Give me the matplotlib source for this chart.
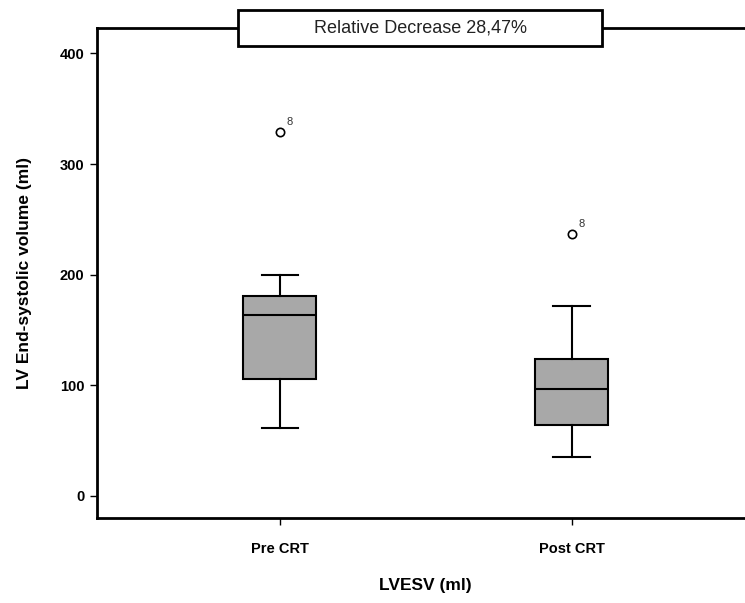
import numpy as np
import matplotlib.pyplot as plt
from matplotlib.patches import Rectangle

plt.rcParams['font.family'] = ['Liberation Sans', 'DejaVu Sans']

# data
groups = ['Pre CRT', 'Post CRT']
whislo = [61.4, 35.2]
q1 = [105.6, 64.1]
med = [163.4, 96.6]
q3 = [180.6, 123.7]
whishi = [199.5, 171.6]
outliers = [[329.0], [236.6]]
outlier_ids = ['8', '8']
title_text = 'Relative Decrease 28,47%'

fig = plt.figure(figsize=(7.45, 6.03), dpi=100)
ax = fig.add_axes([0.130, 0.141, 0.883, 0.8126])

stats = []
for i in range(len(groups)):
    stats.append(dict(label=groups[i], whislo=whislo[i], q1=q1[i], med=med[i],
                      q3=q3[i], whishi=whishi[i], fliers=outliers[i]))

pos = np.arange(1, len(groups) + 1)
ax.bxp(stats, positions=pos, widths=0.25, patch_artist=True,
       boxprops=dict(facecolor='#a8a8a8', edgecolor='black', linewidth=1.5),
       medianprops=dict(color='black', linewidth=1.5),
       whiskerprops=dict(color='black', linewidth=1.5),
       capprops=dict(color='black', linewidth=1.5),
       flierprops=dict(marker='o', markerfacecolor='white', markeredgecolor='black',
                       markersize=6, markeredgewidth=1.2))

# outlier case numbers
for i in range(len(groups)):
    for v in outliers[i]:
        ax.annotate(outlier_ids[i], (pos[i], v), xytext=(5, 5), textcoords='offset points',
                    fontsize=8, color='#333333')

ax.set_xlim(0.373, 2.627)
ax.set_ylim(-20, 423)
ax.set_yticks([0, 100, 200, 300, 400])
ax.set_xticks(pos)
ax.set_xticklabels(groups, fontweight='bold', fontsize=10.5)
for t in ax.get_yticklabels():
    t.set_fontweight('bold')
    t.set_fontsize(10.5)
ax.tick_params(axis='y', direction='out', length=5, width=1, pad=4)
ax.tick_params(axis='x', direction='out', length=5, width=1, pad=12)

ax.set_ylabel('LV End-systolic volume (ml)', fontsize=12.5, fontweight='bold', labelpad=20)
ax.set_xlabel('LVESV (ml)', fontsize=12.5, fontweight='bold', labelpad=16)

for s in ['left', 'bottom', 'top']:
    ax.spines[s].set_linewidth(2)
ax.spines['right'].set_visible(False)

# title box sitting on the top spine
bx0, bx1 = 238 / 745, 602 / 745
by0, by1 = 1 - 46 / 603, 1 - 10 / 603
fig.patches.append(Rectangle((bx0, by0), bx1 - bx0, by1 - by0, transform=fig.transFigure,
                             facecolor='white', edgecolor='black', linewidth=2, zorder=5))
fig.text((bx0 + bx1) / 2, (by0 + by1) / 2, title_text, ha='center', va='center',
         fontsize=13, color='#222222', zorder=6)

fig.savefig('out.png', dpi=100)
